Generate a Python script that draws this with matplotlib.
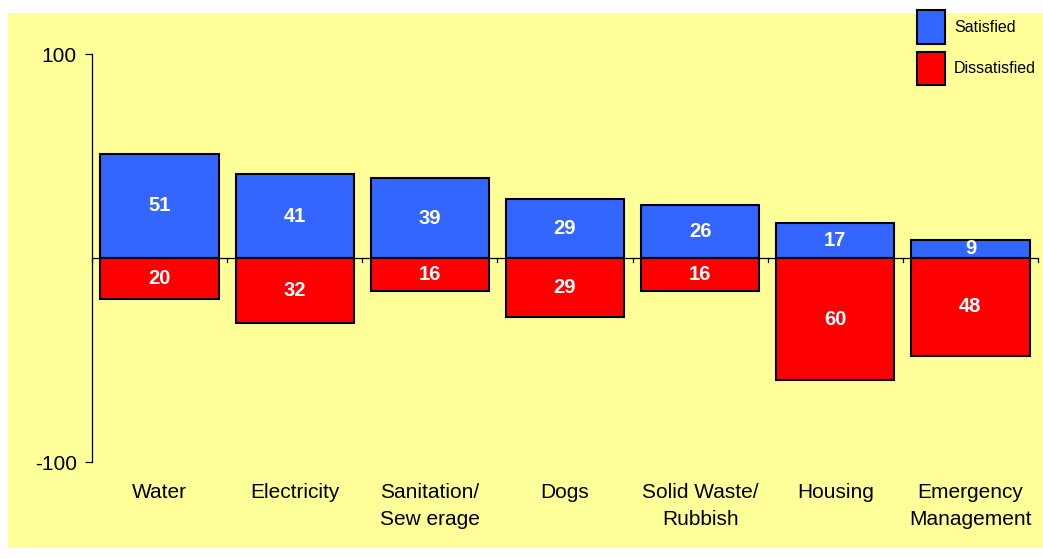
import numpy as np
import matplotlib
matplotlib.use("Agg")
import matplotlib.pyplot as plt
from matplotlib.patches import Rectangle

categories = ["Water", "Electricity", "Sanitation/\nSew erage", "Dogs",
              "Solid Waste/\nRubbish", "Housing", "Emergency\nManagement"]
satisfied = [51, 41, 39, 29, 26, 17, 9]
dissatisfied = [20, 32, 16, 29, 16, 60, 48]

plt.rcParams['font.family'] = ['Liberation Sans', 'DejaVu Sans']

fig = plt.figure(figsize=(10.43, 5.58), dpi=100)
fig.patch.set_facecolor("white")

# yellow chart area behind everything
W, H = 1043, 558
bg = fig.add_axes([0, 0, 1, 1], zorder=-10)
bg.set_axis_off()
bg.set_xlim(0, W)
bg.set_ylim(H, 0)
bg.add_patch(Rectangle((8, 13), W - 8, 548 - 13, facecolor="#FFFF99",
                       edgecolor="none"))

ax = fig.add_axes([92 / W, 1 - 462 / H, (1038 - 92) / W, (462 - 54) / H])
ax.set_facecolor("none")

x = np.arange(len(categories))
width = 0.875
ax.bar(x, satisfied, width, color="#3366FF", edgecolor="black", linewidth=1.5,
       label="Satisfied", zorder=3)
ax.bar(x, [-d for d in dissatisfied], width, color="#FF0000", edgecolor="black",
       linewidth=1.5, label="Dissatisfied", zorder=3)

for xi, s, d in zip(x, satisfied, dissatisfied):
    ax.text(xi, s / 2, str(s), ha="center", va="center", color="white",
            fontsize=14.5, fontweight="bold", zorder=4)
    ax.text(xi, -d / 2, str(d), ha="center", va="center", color="white",
            fontsize=14.5, fontweight="bold", zorder=4)

ax.set_xlim(-0.5, len(categories) - 0.5)
ax.set_ylim(-100, 100)
ax.set_yticks([-100, 100])
ax.set_yticklabels(["-100", "100"], fontsize=15)

for s in ["top", "right", "bottom"]:
    ax.spines[s].set_visible(False)
ax.spines["left"].set_linewidth(0.9)
ax.axhline(0, color="black", linewidth=0.9, zorder=2)
ax.tick_params(axis="y", direction="out", length=5, width=0.9, pad=6)

ax.set_xticks([])
for b in np.arange(-0.5, len(categories), 1.0):
    ax.plot([b, b], [0, -2], color="black", linewidth=0.9, zorder=2,
            clip_on=False)

for xi, c in zip(x, categories):
    ax.annotate(c, xy=(xi, -100), xycoords="data", xytext=(0, -15),
                textcoords="offset points", ha="center", va="top",
                fontsize=15, linespacing=1.55)

# legend
leg = fig.legend(loc="upper left", bbox_to_anchor=(911 / W, 1 - 4 / H),
                 frameon=False, fontsize=11.5, handlelength=1.75,
                 handleheight=2.85, labelspacing=0.5, handletextpad=0.55,
                 borderaxespad=0)

fig.savefig("out.png", dpi=100)
